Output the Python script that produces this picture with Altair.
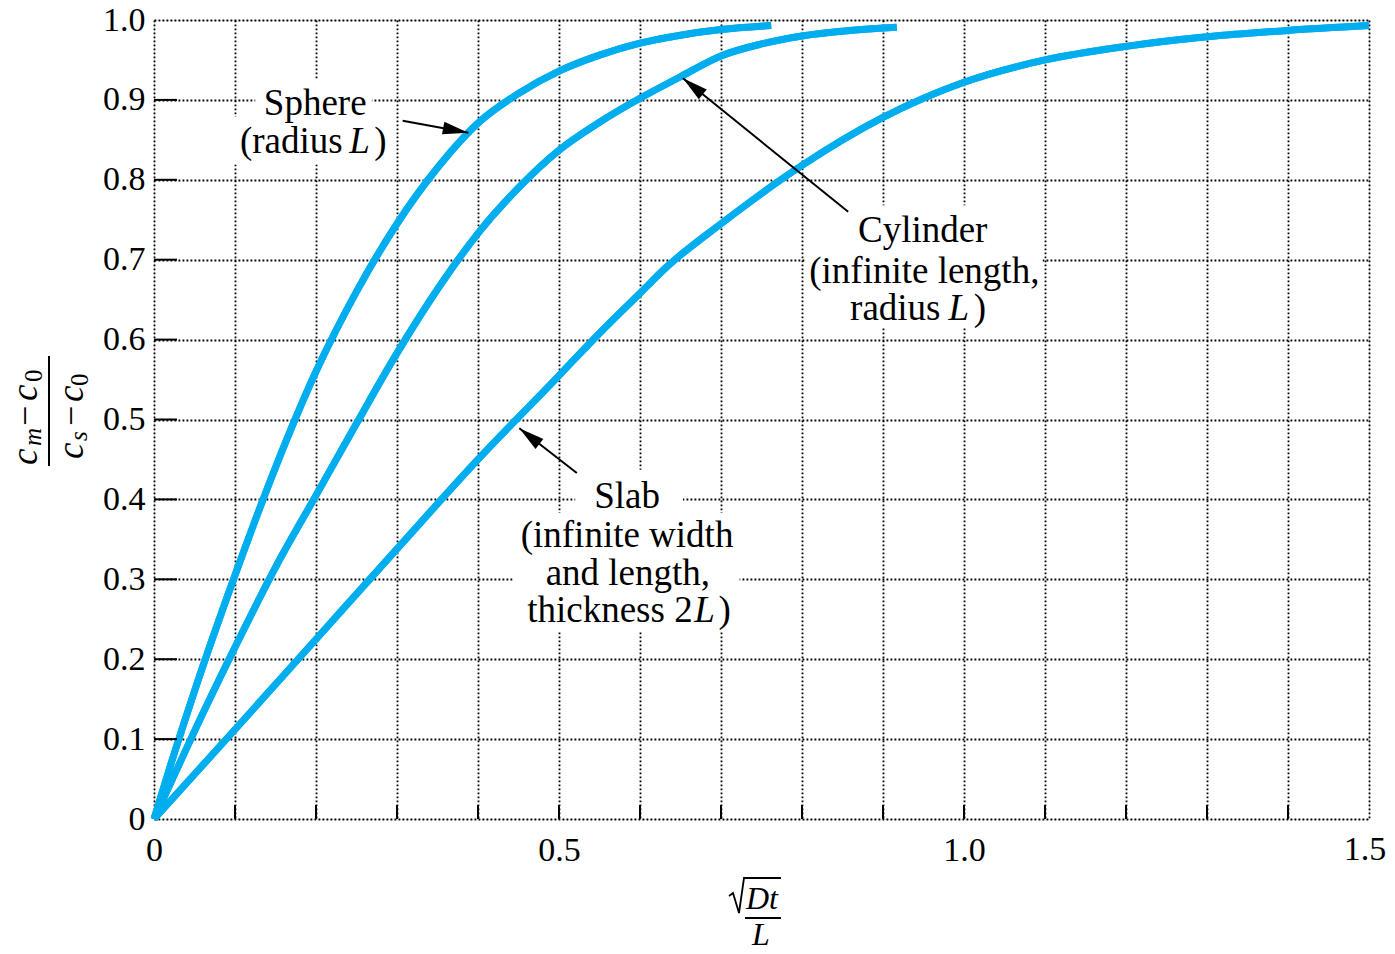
import math
import altair as alt
import pandas as pd

# ---------------- data ----------------
sphere_x = [0.0, 0.02, 0.05, 0.1, 0.15, 0.2, 0.25, 0.3, 0.35, 0.4, 0.45, 0.5, 0.55, 0.6, 0.65, 0.7, 0.762]
sphere_y = [0.0, 0.066, 0.16, 0.305, 0.44, 0.56, 0.66, 0.745, 0.815, 0.871, 0.908, 0.936, 0.956, 0.971, 0.981, 0.988, 0.993]

cyl_x = [0.0, 0.025, 0.05, 0.1, 0.15, 0.2, 0.25, 0.3, 0.35, 0.4, 0.45, 0.5, 0.55, 0.6, 0.65, 0.7, 0.75, 0.8, 0.85, 0.917]
cyl_y = [0.0, 0.055, 0.11, 0.215, 0.315, 0.405, 0.495, 0.583, 0.663, 0.733, 0.79, 0.837, 0.872, 0.902, 0.929, 0.955, 0.970, 0.980, 0.986, 0.991]

slab_x = [0.0, 0.1, 0.2, 0.3, 0.4, 0.5, 0.55, 0.6, 0.632, 0.7, 0.8, 0.9, 1.0, 1.1, 1.2, 1.3, 1.4, 1.5]
slab_y = [0.0, 0.112, 0.225, 0.338, 0.45, 0.555, 0.608, 0.658, 0.69, 0.745, 0.818, 0.878, 0.922, 0.95, 0.967, 0.979, 0.987, 0.993]

x_ticks = [round(0.1 * i, 1) for i in range(16)]
y_ticks = [round(0.1 * i, 1) for i in range(11)]
x_last_label = ["1.5"]

# annotation texts (data units)
ann_text = ["Sphere", "(radius", "L", ")",
            "Cylinder", "(infinite length,", "radius", "L", ")",
            "Slab", "(infinite width", "and length,", "thickness 2", "L", ")"]
ann_x = [0.199, 0.233, 0.241, 0.272,
         0.949, 0.973, 0.981, 1.013, 1.013,
         0.584, 0.584, 0.585, 0.665, 0.667, 0.697]
ann_x[5] = 0.951
ann_y = [0.881, 0.834, 0.834, 0.834,
         0.722, 0.671, 0.625, 0.625, 0.625,
         0.389, 0.340, 0.293, 0.247, 0.247, 0.247]
ann_kind = ["c", "r", "il", "l",
            "c", "c", "r", "il", "l",
            "c", "c", "c", "r", "il", "l"]

# white boxes behind the labels (data units)
box_x1 = [0.125, 0.098, 0.859, 0.804, 0.520, 0.443]
box_x2 = [0.269, 0.298, 1.044, 1.097, 0.653, 0.723]
box_y1 = [0.875, 0.819, 0.712, 0.615, 0.380, 0.234]
box_y2 = [0.925, 0.879, 0.768, 0.718, 0.437, 0.383]

# arrows: tail -> tip (data units)
arr_x1 = [0.307, 0.857, 0.522]
arr_y1 = [0.874, 0.760, 0.433]
arr_x2 = [0.388, 0.653, 0.451]
arr_y2 = [0.859, 0.927, 0.489]

# ---------------- layout ----------------
W, H = 1215, 799
XMAX, YMAX = 1.5, 1.0
BLUE = "#00AEEF"
FONT = "Liberation Serif"

xs = alt.Scale(domain=[0, XMAX], nice=False, zero=True)
ys = alt.Scale(domain=[0, YMAX], nice=False, zero=True)

curves = pd.DataFrame(
    [{"x": a, "y": b, "s": "Sphere", "i": k} for k, (a, b) in enumerate(zip(sphere_x, sphere_y))]
    + [{"x": a, "y": b, "s": "Cylinder", "i": k} for k, (a, b) in enumerate(zip(cyl_x, cyl_y))]
    + [{"x": a, "y": b, "s": "Slab", "i": k} for k, (a, b) in enumerate(zip(slab_x, slab_y))]
)

x_label_expr = ("abs(datum.value*2 - round(datum.value*2)) < 0.001 && datum.value < 1.45 ? "
                "(datum.value == 0 ? '0' : format(datum.value, '.1f')) : ''")
y_label_expr = "datum.value == 0 ? '0' : format(datum.value, '.1f')"

axis_common = dict(grid=True, gridColor="black", gridDash=[1.8, 2.2], gridWidth=1.8, gridOpacity=1,
                   ticks=False, domain=False, labelFont=FONT, labelFontSize=34, labelColor="black",
                   labelOverlap=False, title=None)

lines = alt.Chart(curves).mark_line(
    color=BLUE, strokeWidth=7, interpolate="monotone", strokeCap="butt"
).encode(
    x=alt.X("x:Q", scale=xs, axis=alt.Axis(values=x_ticks, labelExpr=x_label_expr, labelFlush=False,
                                            labelPadding=14, **axis_common)),
    y=alt.Y("y:Q", scale=ys, axis=alt.Axis(values=y_ticks, labelExpr=y_label_expr,
                                            labelPadding=9, **axis_common)),
    detail="s:N",
    order="i:Q",
)

last_label = alt.Chart(pd.DataFrame({"x": [XMAX], "y": [0.0], "t": x_last_label})).mark_text(
    font=FONT, fontSize=34, baseline="top", align="center", dy=14, dx=-4, color="black"
).encode(x=alt.X("x:Q", scale=xs), y=alt.Y("y:Q", scale=ys), text="t:N")

boxes = alt.Chart(pd.DataFrame({"x1": box_x1, "x2": box_x2, "y1": box_y1, "y2": box_y2})).mark_rect(
    color="white"
).encode(
    x=alt.X("x1:Q", scale=xs), x2="x2:Q", y=alt.Y("y1:Q", scale=ys), y2="y2:Q"
)

arr_df = pd.DataFrame({"x1": arr_x1, "y1": arr_y1, "x2": arr_x2, "y2": arr_y2})
arr_df["ang"] = [
    math.degrees(math.atan2((b - a) * W / XMAX, (d - c) * H / YMAX)) % 360
    for a, b, c, d in zip(arr_x1, arr_x2, arr_y1, arr_y2)
]
arrow_lines = alt.Chart(arr_df).mark_rule(color="black", strokeWidth=2).encode(
    x=alt.X("x1:Q", scale=xs), y=alt.Y("y1:Q", scale=ys), x2="x2:Q", y2="y2:Q"
)
arrow_heads = alt.Chart(arr_df).mark_point(
    shape="M0,0 L0.5,2 L-0.5,2 Z", filled=True, color="black", opacity=1, size=650
).encode(
    x=alt.X("x2:Q", scale=xs), y=alt.Y("y2:Q", scale=ys),
    angle=alt.Angle("ang:Q", scale=None),
)

ann = pd.DataFrame({"x": ann_x, "y": ann_y, "t": ann_text, "k": ann_kind})
# cylinder third line: "radius" right edge, italic L, closing parenthesis
ann.loc[6, "x"] = 0.971
ann.loc[7, "x"] = 0.981
ann.loc[8, "x"] = 1.012


def text_layer(df, align, style):
    return alt.Chart(df).mark_text(
        font=FONT, fontSize=37, fontStyle=style, align=align, baseline="alphabetic", color="black"
    ).encode(x=alt.X("x:Q", scale=xs), y=alt.Y("y:Q", scale=ys), text="t:N")


texts = [
    text_layer(ann[ann.k == "c"], "center", "normal"),
    text_layer(ann[ann.k == "r"], "right", "normal"),
    text_layer(ann[ann.k == "l"], "left", "normal"),
    text_layer(ann[ann.k == "il"], "left", "italic"),
]

# tick marks (inward) along bottom and left edges
bticks = alt.Chart(pd.DataFrame({"v": x_ticks[1:-1]})).mark_rule(color="black", strokeWidth=2).encode(
    x=alt.X("v:Q", scale=xs), y=alt.value(H), y2=alt.value(H - 14)
)
lticks = alt.Chart(pd.DataFrame({"v": y_ticks[1:-1]})).mark_rule(color="black", strokeWidth=2).encode(
    y=alt.Y("v:Q", scale=ys), x=alt.value(0), x2=alt.value(23)
)

# ---------------- axis titles (pixel positions, outside the plot) ----------------
yt_text = ["c", "m", "\u2212", "c", "0", "c", "s", "\u2212", "c", "0"]
yt_px = [-117, -113, -117, -117, -112, -71, -67, -71, -71, -66]
yt_py = [445, 426, 406, 381, 362, 439, 421, 406, 382, 366]
yt_sz = [37, 25, 36, 37, 25, 37, 25, 36, 37, 25]
yt_it = [1, 1, 0, 1, 0, 1, 1, 0, 1, 0]
ytd = pd.DataFrame({"px": yt_px, "py": yt_py, "t": yt_text, "sz": yt_sz, "it": yt_it})


def ytitle_layer(df, style):
    return alt.Chart(df).mark_text(
        font=FONT, fontStyle=style, angle=270, align="left", baseline="alphabetic", color="black"
    ).encode(
        x=alt.X("px:Q", scale=None, axis=None), y=alt.Y("py:Q", scale=None, axis=None),
        text="t:N", size=alt.Size("sz:Q", scale=None, legend=None),
    )


ytitle = [ytitle_layer(ytd[ytd.it == 1], "italic"), ytitle_layer(ytd[ytd.it == 0], "normal")]
ybar = alt.Chart(pd.DataFrame({"a": [0]})).mark_rule(color="black", strokeWidth=2).encode(
    x=alt.value(-105), y=alt.value(336), y2=alt.value(446)
)

xt = pd.DataFrame({"px": [608, 607], "py": [889, 925], "t": ["Dt", "L"]})
xtitle = alt.Chart(xt).mark_text(
    font=FONT, fontSize=32, fontStyle="italic", align="center", baseline="alphabetic", color="black"
).encode(x=alt.X("px:Q", scale=None, axis=None), y=alt.Y("py:Q", scale=None, axis=None), text="t:N")
xbar = alt.Chart(pd.DataFrame({"a": [0]})).mark_rule(color="black", strokeWidth=2).encode(
    x=alt.value(591), x2=alt.value(627), y=alt.value(898)
)
rad = pd.DataFrame({"px": [575, 579, 585, 590, 627], "py": [876, 873, 893, 858, 858], "i": [0, 1, 2, 3, 4]})
radical = alt.Chart(rad).mark_line(color="black", strokeWidth=1.8).encode(
    x=alt.X("px:Q", scale=None, axis=None), y=alt.Y("py:Q", scale=None, axis=None), order="i:Q"
)

chart = alt.layer(
    lines, boxes, lines, arrow_lines, arrow_heads, *texts, bticks, lticks, last_label,
    *ytitle, ybar, xtitle, xbar, radical,
).properties(
    width=W, height=H,
    autosize=alt.AutoSizeParams(type="none"),
    padding={"left": 146, "top": 12, "right": 18, "bottom": 127},
).configure_view(
    stroke="black", strokeWidth=4
).configure(background="white")

chart.save("out.html", embed_options={"renderer": "svg", "actions": False})
